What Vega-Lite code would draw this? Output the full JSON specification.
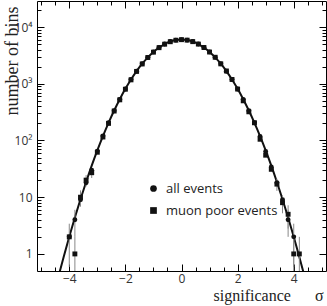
{
  "$schema": "https://vega.github.io/schema/vega-lite/v6.json",
  "width": 289,
  "height": 270,
  "autosize": {"type": "none"},
  "padding": {"left": 37, "top": 1, "right": 1, "bottom": 35},
  "background": "white",
  "config": {"view": {"stroke": null}},
  "datasets": {
    "curve": [
      {"x": -4.6, "y": 0.153}, {"x": -4.4, "y": 0.376}, {"x": -4.2, "y": 0.886}, {"x": -4.0, "y": 2.01},
      {"x": -3.8, "y": 4.39}, {"x": -3.6, "y": 9.2}, {"x": -3.4, "y": 18.5}, {"x": -3.2, "y": 35.9},
      {"x": -3.0, "y": 66.7}, {"x": -2.8, "y": 119.1}, {"x": -2.6, "y": 204.3}, {"x": -2.4, "y": 336.8},
      {"x": -2.2, "y": 533.5}, {"x": -2.0, "y": 812}, {"x": -1.8, "y": 1187}, {"x": -1.6, "y": 1668},
      {"x": -1.4, "y": 2252}, {"x": -1.2, "y": 2921}, {"x": -1.0, "y": 3639}, {"x": -0.8, "y": 4357},
      {"x": -0.6, "y": 5012}, {"x": -0.4, "y": 5539}, {"x": -0.2, "y": 5881}, {"x": 0.0, "y": 6000},
      {"x": 0.2, "y": 5881}, {"x": 0.4, "y": 5539}, {"x": 0.6, "y": 5012}, {"x": 0.8, "y": 4357},
      {"x": 1.0, "y": 3639}, {"x": 1.2, "y": 2921}, {"x": 1.4, "y": 2252}, {"x": 1.6, "y": 1668},
      {"x": 1.8, "y": 1187}, {"x": 2.0, "y": 812}, {"x": 2.2, "y": 533.5}, {"x": 2.4, "y": 336.8},
      {"x": 2.6, "y": 204.3}, {"x": 2.8, "y": 119.1}, {"x": 3.0, "y": 66.7}, {"x": 3.2, "y": 35.9},
      {"x": 3.4, "y": 18.5}, {"x": 3.6, "y": 9.2}, {"x": 3.8, "y": 4.39}, {"x": 4.0, "y": 2.01},
      {"x": 4.2, "y": 0.886}, {"x": 4.4, "y": 0.376}, {"x": 4.6, "y": 0.153}
    ],
    "err": [
      {"x": -4.0, "lo": 0.59, "hi": 3.41},
      {"x": -3.8, "lo": 0.01, "hi": 2},
      {"x": -3.8, "lo": 2, "hi": 6},
      {"x": -3.6, "lo": 6.8, "hi": 13.2},
      {"x": -3.4, "lo": 15.5, "hi": 24.5},
      {"x": -3.2, "lo": 21.8, "hi": 32.2},
      {"x": 3.4, "lo": 12.9, "hi": 21.1},
      {"x": 3.6, "lo": 5.2, "hi": 10.8},
      {"x": 3.8, "lo": 2.8, "hi": 7.2},
      {"x": 3.8, "lo": 2, "hi": 6},
      {"x": 4.0, "lo": 0.59, "hi": 3.41},
      {"x": 4.0, "lo": 0.01, "hi": 2},
      {"x": 4.2, "lo": 0.01, "hi": 2}
    ],
    "bins": [
      {"series": "all events", "x": -4.0, "n": 2}, {"series": "all events", "x": -3.8, "n": 4},
      {"series": "all events", "x": -3.6, "n": 9}, {"series": "all events", "x": -3.4, "n": 18},
      {"series": "all events", "x": -3.2, "n": 30}, {"series": "all events", "x": -3.0, "n": 65},
      {"series": "all events", "x": -2.8, "n": 120}, {"series": "all events", "x": -2.6, "n": 205},
      {"series": "all events", "x": -2.4, "n": 335}, {"series": "all events", "x": -2.2, "n": 530},
      {"series": "all events", "x": -2.0, "n": 810}, {"series": "all events", "x": -1.8, "n": 1185},
      {"series": "all events", "x": -1.6, "n": 1665}, {"series": "all events", "x": -1.4, "n": 2250},
      {"series": "all events", "x": -1.2, "n": 2920}, {"series": "all events", "x": -1.0, "n": 3640},
      {"series": "all events", "x": -0.8, "n": 4360}, {"series": "all events", "x": -0.6, "n": 5010},
      {"series": "all events", "x": -0.4, "n": 5540}, {"series": "all events", "x": -0.2, "n": 5880},
      {"series": "all events", "x": 0.0, "n": 6000}, {"series": "all events", "x": 0.2, "n": 5880},
      {"series": "all events", "x": 0.4, "n": 5540}, {"series": "all events", "x": 0.6, "n": 5010},
      {"series": "all events", "x": 0.8, "n": 4360}, {"series": "all events", "x": 1.0, "n": 3640},
      {"series": "all events", "x": 1.2, "n": 2920}, {"series": "all events", "x": 1.4, "n": 2250},
      {"series": "all events", "x": 1.6, "n": 1665}, {"series": "all events", "x": 1.8, "n": 1185},
      {"series": "all events", "x": 2.0, "n": 810}, {"series": "all events", "x": 2.2, "n": 530},
      {"series": "all events", "x": 2.4, "n": 335}, {"series": "all events", "x": 2.6, "n": 205},
      {"series": "all events", "x": 2.8, "n": 118}, {"series": "all events", "x": 3.0, "n": 64},
      {"series": "all events", "x": 3.2, "n": 34}, {"series": "all events", "x": 3.4, "n": 18},
      {"series": "all events", "x": 3.6, "n": 9}, {"series": "all events", "x": 3.8, "n": 4},
      {"series": "all events", "x": 4.0, "n": 2},
      {"series": "muon poor events", "x": -4.0, "n": 2}, {"series": "muon poor events", "x": -3.8, "n": 1},
      {"series": "muon poor events", "x": -3.6, "n": 10}, {"series": "muon poor events", "x": -3.4, "n": 20},
      {"series": "muon poor events", "x": -3.2, "n": 27}, {"series": "muon poor events", "x": -3.0, "n": 62},
      {"series": "muon poor events", "x": -2.8, "n": 115}, {"series": "muon poor events", "x": -2.6, "n": 200},
      {"series": "muon poor events", "x": -2.4, "n": 330}, {"series": "muon poor events", "x": -2.2, "n": 520},
      {"series": "muon poor events", "x": -2.0, "n": 800}, {"series": "muon poor events", "x": -1.8, "n": 1170},
      {"series": "muon poor events", "x": -1.6, "n": 1650}, {"series": "muon poor events", "x": -1.4, "n": 2230},
      {"series": "muon poor events", "x": -1.2, "n": 2900}, {"series": "muon poor events", "x": -1.0, "n": 3600},
      {"series": "muon poor events", "x": -0.8, "n": 4320}, {"series": "muon poor events", "x": -0.6, "n": 4980},
      {"series": "muon poor events", "x": -0.4, "n": 5500}, {"series": "muon poor events", "x": -0.2, "n": 5850},
      {"series": "muon poor events", "x": 0.0, "n": 5980}, {"series": "muon poor events", "x": 0.2, "n": 5870},
      {"series": "muon poor events", "x": 0.4, "n": 5520}, {"series": "muon poor events", "x": 0.6, "n": 5000},
      {"series": "muon poor events", "x": 0.8, "n": 4350}, {"series": "muon poor events", "x": 1.0, "n": 3620},
      {"series": "muon poor events", "x": 1.2, "n": 2930}, {"series": "muon poor events", "x": 1.4, "n": 2240},
      {"series": "muon poor events", "x": 1.6, "n": 1680}, {"series": "muon poor events", "x": 1.8, "n": 1190},
      {"series": "muon poor events", "x": 2.0, "n": 805}, {"series": "muon poor events", "x": 2.2, "n": 500},
      {"series": "muon poor events", "x": 2.4, "n": 320}, {"series": "muon poor events", "x": 2.6, "n": 205},
      {"series": "muon poor events", "x": 2.8, "n": 105}, {"series": "muon poor events", "x": 3.0, "n": 55},
      {"series": "muon poor events", "x": 3.2, "n": 31}, {"series": "muon poor events", "x": 3.4, "n": 17},
      {"series": "muon poor events", "x": 3.6, "n": 8}, {"series": "muon poor events", "x": 3.8, "n": 5},
      {"series": "muon poor events", "x": 4.0, "n": 1}, {"series": "muon poor events", "x": 4.2, "n": 1}
    ]
  },
  "resolve": {"axis": {"x": "independent", "y": "independent"}},
  "layer": [
    {
      "data": {"name": "curve"},
      "mark": {"type": "line", "color": "#111111", "strokeWidth": 2, "interpolate": "monotone", "clip": true},
      "encoding": {
        "x": {
          "field": "x", "type": "quantitative",
          "scale": {"domain": [-5.15, 5.15], "nice": false, "zero": false},
          "axis": {
            "orient": "bottom",
            "values": [-5, -4.5, -4, -3.5, -3, -2.5, -2, -1.5, -1, -0.5, 0, 0.5, 1, 1.5, 2, 2.5, 3, 3.5, 4, 4.5, 5],
            "labelExpr": "datum.value % 2 == 0 ? format(datum.value, 'd') : ''",
            "tickSize": {"condition": {"test": "datum.value % 2 == 0", "value": -7}, "value": -4},
            "labelPadding": 9,
            "grid": false,
            "domainColor": "#000000", "tickColor": "#000000",
            "labelFont": "Open Sans", "labelFontSize": 12, "labelColor": "#333333",
            "title": "significance\u2003\u2002σ",
            "titleX": 286, "titleY": 29, "titleAlign": "right", "titleBaseline": "alphabetic",
            "titleFont": "Liberation Serif", "titleFontSize": 16, "titleFontWeight": "normal",
            "titleColor": "#222222"
          }
        },
        "y": {
          "field": "y", "type": "quantitative",
          "scale": {"type": "log", "domain": [0.5, 28740], "nice": false},
          "axis": {
            "orient": "left",
            "values": [1, 2, 3, 4, 5, 6, 7, 8, 9, 10, 20, 30, 40, 50, 60, 70, 80, 90, 100, 200, 300, 400, 500, 600, 700, 800, 900, 1000, 2000, 3000, 4000, 5000, 6000, 7000, 8000, 9000, 10000, 20000],
            "labelExpr": "datum.value == 1 ? '1' : datum.value == 10 ? '10' : datum.value == 100 ? '10²' : datum.value == 1000 ? '10³' : datum.value == 10000 ? '10⁴' : ''",
            "tickSize": {"condition": {"test": "datum.value == 1 || datum.value == 10 || datum.value == 100 || datum.value == 1000 || datum.value == 10000", "value": -7}, "value": -4},
            "labelPadding": 12,
            "grid": false,
            "domainColor": "#000000", "tickColor": "#000000",
            "labelFont": "Open Sans", "labelFontSize": 12, "labelColor": "#333333",
            "title": "number of bins",
            "titleX": -25, "titleY": 5, "titleAngle": -90,
            "titleAlign": "right", "titleBaseline": "middle",
            "titleFont": "Liberation Serif", "titleFontSize": 18, "titleFontWeight": "normal",
            "titleColor": "#222222"
          }
        }
      }
    },
    {
      "data": {"name": "err"},
      "mark": {"type": "rule", "color": "#888888", "strokeWidth": 1, "clip": true},
      "encoding": {
        "x": {
          "field": "x", "type": "quantitative",
          "scale": {"domain": [-5.15, 5.15], "nice": false, "zero": false},
          "axis": {
            "orient": "top",
            "values": [-5, -4.5, -4, -3.5, -3, -2.5, -2, -1.5, -1, -0.5, 0, 0.5, 1, 1.5, 2, 2.5, 3, 3.5, 4, 4.5, 5],
            "labels": false,
            "tickSize": {"condition": {"test": "datum.value % 2 == 0", "value": -7}, "value": -4},
            "grid": false, "title": null,
            "domainColor": "#000000", "tickColor": "#000000"
          }
        },
        "y": {
          "field": "lo", "type": "quantitative",
          "scale": {"type": "log", "domain": [0.5, 28740], "nice": false},
          "axis": {
            "orient": "right",
            "values": [1, 2, 3, 4, 5, 6, 7, 8, 9, 10, 20, 30, 40, 50, 60, 70, 80, 90, 100, 200, 300, 400, 500, 600, 700, 800, 900, 1000, 2000, 3000, 4000, 5000, 6000, 7000, 8000, 9000, 10000, 20000],
            "labels": false,
            "tickSize": {"condition": {"test": "datum.value == 1 || datum.value == 10 || datum.value == 100 || datum.value == 1000 || datum.value == 10000", "value": -7}, "value": -4},
            "grid": false, "title": null,
            "domainColor": "#000000", "tickColor": "#000000"
          }
        },
        "y2": {"field": "hi"}
      }
    },
    {
      "data": {"name": "bins"},
      "mark": {"type": "point", "filled": true, "opacity": 1, "color": "#111111", "size": 24, "clip": true},
      "encoding": {
        "x": {"field": "x", "type": "quantitative", "scale": {"domain": [-5.15, 5.15], "nice": false, "zero": false}, "axis": null},
        "y": {"field": "n", "type": "quantitative", "scale": {"type": "log", "domain": [0.5, 28740], "nice": false}, "axis": null},
        "shape": {
          "field": "series", "type": "nominal",
          "scale": {"domain": ["all events", "muon poor events"], "range": ["circle", "square"]},
          "legend": {
            "orient": "none", "legendX": 110, "legendY": 181, "title": null,
            "labelFont": "Open Sans", "labelFontSize": 13, "labelColor": "#222222",
            "symbolSize": 45, "symbolFillColor": "#111111", "symbolStrokeWidth": 0, "symbolOpacity": 1,
            "rowPadding": 8, "padding": 0, "labelOffset": 6
          }
        }
      }
    }
  ]
}
